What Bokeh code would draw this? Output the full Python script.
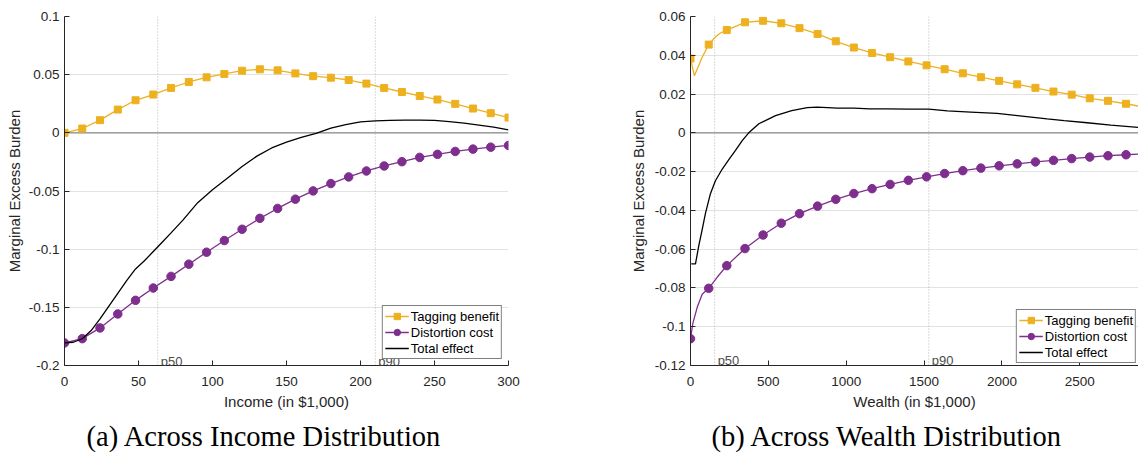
from bokeh.plotting import figure
from bokeh.models import Range1d, FixedTicker, Span, Label, Title
from bokeh.layouts import row
from bokeh.embed import file_html
from bokeh.resources import INLINE

# ---------------- data: income panel (in $1,000) ----------------
income_x = [0, 12, 24, 36, 48, 60, 72, 84, 96, 108, 120, 132, 144,
            156, 168, 180, 192, 204, 216, 228, 240, 252, 264, 276, 288, 300]
income_tagging = [0.0000, 0.0037, 0.0109, 0.0200, 0.0280, 0.0329, 0.0386, 0.0437,
                  0.0477, 0.0506, 0.0534, 0.0546, 0.0537, 0.0511, 0.0487, 0.0474,
                  0.0454, 0.0423, 0.0386, 0.0351, 0.0317, 0.0286, 0.0249, 0.0209,
                  0.0169, 0.0131]
income_distortion = [-0.1806, -0.1769, -0.1677, -0.1557, -0.1440, -0.1334, -0.1234,
                     -0.1129, -0.1026, -0.0926, -0.0829, -0.0735, -0.0650, -0.0570,
                     -0.0499, -0.0436, -0.0379, -0.0328, -0.0285, -0.0248, -0.0211,
                     -0.0185, -0.0160, -0.0140, -0.0123, -0.0108]
income_total_x = [0, 6, 12, 18, 24, 30, 36, 42, 48, 54, 60, 66, 72, 80, 90, 100,
                  110, 120, 130, 140, 150, 160, 170, 180, 190, 200, 210, 220, 230,
                  240, 250, 260, 270, 280, 290, 300]
income_total = [-0.1806, -0.1800, -0.1770, -0.1700, -0.1600, -0.1490, -0.1380,
                -0.1270, -0.1170, -0.1100, -0.1020, -0.0940, -0.0860, -0.0750,
                -0.0600, -0.0490, -0.0390, -0.0290, -0.0200, -0.0130, -0.0080,
                -0.0040, -0.0005, 0.0040, 0.0070, 0.0095, 0.0103, 0.0107, 0.0110,
                0.0110, 0.0107, 0.0097, 0.0083, 0.0067, 0.0049, 0.0026]
income_ticks_x = [0, 50, 100, 150, 200, 250, 300]
income_ticks_y = [-0.2, -0.15, -0.1, -0.05, 0, 0.05, 0.1]
income_tick_labels_y = ["-0.2", "-0.15", "-0.1", "-0.05", "0", "0.05", "0.1"]
income_pct_x = [63, 210]
income_pct_labels = ["p50", "p90"]

# ---------------- data: wealth panel (in $1,000) ----------------
wealth_x = [0, 117, 233, 350, 466, 583, 700, 816, 933, 1049, 1166, 1282, 1399,
            1516, 1632, 1749, 1865, 1982, 2098, 2215, 2331, 2448, 2564, 2681, 2797]
wealth_tagging = [0.0383, 0.0455, 0.0530, 0.0570, 0.0578, 0.0565, 0.0540, 0.0510,
                  0.0472, 0.0440, 0.0412, 0.0390, 0.0368, 0.0348, 0.0328, 0.0307,
                  0.0287, 0.0268, 0.0250, 0.0232, 0.0213, 0.0197, 0.0178, 0.0165,
                  0.0150]
wealth_distortion = [-0.1062, -0.0802, -0.0685, -0.0597, -0.0527, -0.0466, -0.0417,
                     -0.0378, -0.0343, -0.0313, -0.0288, -0.0266, -0.0245, -0.0227,
                     -0.0210, -0.0195, -0.0182, -0.0170, -0.0160, -0.0150, -0.0142,
                     -0.0133, -0.0125, -0.0118, -0.0113]
# extra curve points between the markers
wealth_tagging_extra_x = [25, 75, 160, 192, 2877]
wealth_tagging_extra = [0.0294, 0.0390, 0.0494, 0.0515, 0.0138]
wealth_distortion_extra_x = [15, 43, 75, 171, 2877]
wealth_distortion_extra = [-0.0983, -0.0900, -0.0833, -0.0745, -0.0110]
wealth_total_x = [5, 32, 53, 75, 96, 128, 160, 203, 246, 289, 332, 374, 439, 546,
                  650, 750, 813, 880, 942, 1050, 1150, 1263, 1400, 1530, 1650, 1800,
                  1969, 2100, 2290, 2400, 2547, 2700, 2877]
wealth_total = [-0.0676, -0.0676, -0.0583, -0.0499, -0.0415, -0.0314, -0.0247,
                -0.0188, -0.0138, -0.0090, -0.0040, 0.0000, 0.0047, 0.0089, 0.0115,
                0.0130, 0.0133, 0.0130, 0.0127, 0.0127, 0.0124, 0.0124, 0.0122,
                0.0122, 0.0113, 0.0107, 0.0100, 0.0089, 0.0072, 0.0063, 0.0052,
                0.0040, 0.0028]
wealth_ticks_x = [0, 500, 1000, 1500, 2000, 2500]
wealth_ticks_y = [-0.12, -0.1, -0.08, -0.06, -0.04, -0.02, 0, 0.02, 0.04, 0.06]
wealth_tick_labels_y = ["-0.12", "-0.1", "-0.08", "-0.06", "-0.04", "-0.02", "0",
                        "0.02", "0.04", "0.06"]
wealth_pct_x = [155, 1530]
wealth_pct_labels = ["p50", "p90"]

ORANGE = "#EDB120"
PURPLE = "#7E2F8E"
INK = "#262626"
GRID = "#e2e2e2"
SANS = "Liberation Sans"
SERIF = "Liberation Serif"


def merge(xs, ys, extra_x, extra_y):
    pts = sorted(zip(list(xs) + list(extra_x), list(ys) + list(extra_y)))
    return [p[0] for p in pts], [p[1] for p in pts]


def panel(width, height, borders, xr, yr, xticks, yticks, ylabels, xlabel,
          caption, cap_offset, ylab_standoff):
    left, right, top, bottom = borders
    p = figure(width=width, height=height, output_backend="svg",
               toolbar_location=None, x_range=Range1d(*xr), y_range=Range1d(*yr),
               min_border_left=left, min_border_right=right,
               min_border_top=top, min_border_bottom=bottom)
    p.outline_line_color = None
    p.background_fill_color = "white"
    p.border_fill_color = "white"
    p.xgrid.visible = False
    p.ygrid.grid_line_color = GRID
    p.ygrid.grid_line_width = 1

    p.xaxis.ticker = FixedTicker(ticks=xticks)
    p.yaxis.ticker = FixedTicker(ticks=yticks)
    p.yaxis.major_label_overrides = {v: s for v, s in zip(yticks, ylabels)}
    p.xaxis.major_label_overrides = {v: str(v) for v in xticks}
    for ax in (p.xaxis, p.yaxis):
        ax.axis_line_color = INK
        ax.axis_line_width = 1
        ax.major_tick_line_color = INK
        ax.major_tick_in = 5
        ax.major_tick_out = 0
        ax.minor_tick_line_color = None
        ax.major_label_text_font = SANS
        ax.major_label_text_font_size = "13.5px"
        ax.major_label_text_color = INK
        ax.major_label_standoff = 5
        ax.axis_label_text_font = SANS
        ax.axis_label_text_font_size = "15px"
        ax.axis_label_text_font_style = "normal"
        ax.axis_label_text_color = INK
    p.xaxis.axis_label = xlabel
    p.xaxis.major_label_standoff = 11
    p.xaxis.axis_label_standoff = 4
    p.yaxis.axis_label = "Marginal Excess Burden"
    p.yaxis.axis_label_standoff = ylab_standoff

    p.add_layout(Title(text=caption, align="left", offset=cap_offset,
                       text_font=SERIF, text_font_size="28.5px",
                       text_font_style="normal", text_color="black",
                       standoff=13), "below")
    p.add_layout(Span(location=0, dimension="width", line_color="#8a8a8a",
                      line_width=1.3, level="underlay"))
    return p


def percentiles(p, xs, labels, ybottom, yoff):
    for x, t in zip(xs, labels):
        p.add_layout(Span(location=x, dimension="height", line_color="#b5b5b5",
                          line_dash="1 2", line_width=1, level="underlay"))
        p.add_layout(Label(x=x, y=ybottom, text=t, x_offset=3, y_offset=yoff,
                           text_baseline="alphabetic", text_font=SANS,
                           text_font_size="13px", text_color="#4d4d4d"))


def curves(p, tag_line, tag_pts, dist_line, dist_pts, total_line):
    p.line(*tag_line, line_color=ORANGE, line_width=1.3,
           legend_label="Tagging benefit")
    p.scatter(*tag_pts, marker="square", size=7, fill_color=ORANGE,
              line_color=ORANGE, legend_label="Tagging benefit")
    p.line(*dist_line, line_color=PURPLE, line_width=1.3,
           legend_label="Distortion cost")
    p.scatter(*dist_pts, marker="circle", size=8.5, fill_color=PURPLE,
              line_color=PURPLE, legend_label="Distortion cost")
    p.line(*total_line, line_color="black", line_width=1.3,
           legend_label="Total effect")


def style_legend(p, margin):
    lg = p.legend[0]
    lg.location = "bottom_right"
    lg.margin = margin
    lg.padding = 2
    lg.spacing = 0
    lg.label_standoff = 2
    lg.glyph_width = 24
    lg.glyph_height = 16
    lg.label_height = 16
    lg.label_text_font = SANS
    lg.label_text_font_size = "13px"
    lg.label_text_color = "black"
    lg.border_line_color = "black"
    lg.border_line_width = 1
    lg.background_fill_color = "white"
    lg.background_fill_alpha = 1


# ---- (a) income ----
p1 = panel(620, 458, (64, 112, 16, 92), (0, 300), (-0.2, 0.1),
           income_ticks_x, income_ticks_y, income_tick_labels_y,
           "Income (in $1,000)", "(a) Across Income Distribution", 22, 3)
percentiles(p1, income_pct_x, income_pct_labels, -0.2, 4)
curves(p1, (income_x, income_tagging), (income_x, income_tagging),
       (income_x, income_distortion), (income_x, income_distortion),
       (income_total_x, income_total))
style_legend(p1, 6)

# ---- (b) wealth ----
p2 = panel(518, 458, (70, 0, 12, 88), (0, 2877), (-0.12, 0.06),
           wealth_ticks_x, wealth_ticks_y, wealth_tick_labels_y,
           "Wealth (in $1,000)", "(b) Across Wealth Distribution", 21, 5)
percentiles(p2, wealth_pct_x, wealth_pct_labels, -0.12, 5)
curves(p2, merge(wealth_x, wealth_tagging, wealth_tagging_extra_x, wealth_tagging_extra),
       (wealth_x, wealth_tagging),
       merge(wealth_x, wealth_distortion, wealth_distortion_extra_x, wealth_distortion_extra),
       (wealth_x, wealth_distortion),
       (wealth_total_x, wealth_total))
style_legend(p2, 2)

layout = row(p1, p2)
open("out.html", "w").write(file_html(layout, INLINE))
